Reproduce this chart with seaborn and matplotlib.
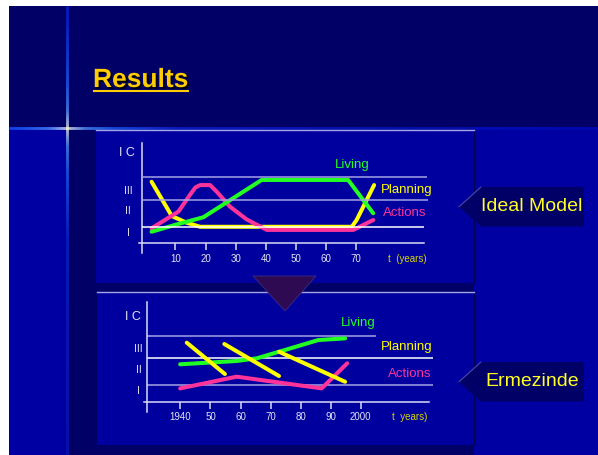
import numpy as np
import pandas as pd
import matplotlib
matplotlib.use("Agg")
import matplotlib.pyplot as plt
import matplotlib.patheffects as pe
from matplotlib.patches import Rectangle, Polygon
from matplotlib.collections import LineCollection
import seaborn as sns

# ---------------------------------------------------------------- data
# Ideal model: IC level against age (years)
ideal_living_t = [2.1, 10.0, 19.3, 38.6, 67.3, 75.6]
ideal_living_ic = [0.70, 1.12, 1.58, 3.84, 3.84, 1.82]
ideal_planning_t = [2.1, 8.8, 13.7, 18.2, 68.5, 70.1, 75.9]
ideal_planning_ic = [3.73, 1.65, 1.25, 1.00, 1.00, 1.41, 3.53]
ideal_actions_t = [2.1, 11.0, 14.8, 16.6, 18.2, 21.5, 23.7, 28.1, 33.6, 40.3, 69.0, 75.6]
ideal_actions_ic = [0.91, 1.92, 2.93, 3.38, 3.53, 3.53, 3.13, 2.22, 1.45, 0.81, 0.81, 1.41]
ideal_ticks = [10, 20, 30, 40, 50, 60, 70]
ideal_tick_labels = ["10", "20", "30", "40", "50", "60", "70"]

# Ermezinde: IC level against calendar year
erm_living_year = [1939.9, 1958.7, 1965.4, 1975.4, 1985.9, 1994.8]
erm_living_ic = [2.27, 2.47, 2.63, 3.17, 3.74, 3.84]
erm_actions_year = [1939.9, 1958.7, 1987.0, 1995.5]
erm_actions_ic = [0.81, 1.52, 0.81, 2.33]
erm_planning_year = [1942.1, 1954.8, 1954.6, 1972.8, 1972.8, 1994.8]
erm_planning_ic = [3.58, 1.68, 3.50, 1.56, 3.03, 1.21]
erm_planning_seg = [1, 1, 2, 2, 3, 3]
erm_ticks = [1940, 1950, 1960, 1970, 1980, 1990, 2000]
erm_tick_labels = ["1940", "50", "60", "70", "80", "90", "2000"]

# IC band boundaries and band names
band_levels = [1.0, 2.63, 4.0]
band_names = ["I", "II", "III"]

# ---------------------------------------------------------------- style
sns.set_theme(style="white")
plt.rcParams["font.family"] = ["Liberation Sans", "DejaVu Sans"]

NAVY = "#000066"
BLUE = "#0000A2"
PANEL = "#00009E"
LAVENDER = "#A4A4E6"
AXIS = "#DCDCF6"
TEXT = "#E4E4F2"
GREEN = "#22FF22"
YELLOW = "#FFFF00"
PINK = "#FF3399"
LW = 2.9

W, H = 598, 455
fig = plt.figure(figsize=(W / 100, H / 100), dpi=100)
fig.patch.set_facecolor("white")

# background layer in pixel units
bg = fig.add_axes([0, 0, 1, 1])
bg.set_xlim(0, W)
bg.set_ylim(H, 0)
bg.axis("off")
bg.add_patch(Rectangle((9, 6), W - 9, H - 6, facecolor=BLUE, edgecolor="none"))
bg.add_patch(Rectangle((9, 6), W - 9, 121, facecolor=NAVY, edgecolor="none"))
bg.add_patch(Rectangle((66, 127), 408, H - 127, facecolor=NAVY, edgecolor="none"))


def glow_colors(d):
    stops = [0, 5, 18, 45, 110, 600]
    r = np.interp(d, stops, [1.0, 0.80, 0.30, 0.12, 0.04, 0.00])
    g = np.interp(d, stops, [1.0, 0.88, 0.58, 0.38, 0.14, 0.02])
    b = np.interp(d, stops, [0.82, 1.0, 1.0, 1.0, 0.85, 0.66])
    return np.column_stack([r, g, b])


cx, cy = 67, 127.5
hx = np.linspace(9, W, 700)
hseg = np.stack([np.column_stack([hx[:-1], np.full(hx.size - 1, cy)]),
                 np.column_stack([hx[1:], np.full(hx.size - 1, cy)])], axis=1)
bg.add_collection(LineCollection(hseg, colors=glow_colors(np.abs(hx[:-1] - cx)),
                                 linewidths=2.0, capstyle="butt"))
vy = np.linspace(6, H, 600)
vseg = np.stack([np.column_stack([np.full(vy.size - 1, cx), vy[:-1]]),
                 np.column_stack([np.full(vy.size - 1, cx), vy[1:]])], axis=1)
bg.add_collection(LineCollection(vseg, colors=glow_colors(np.abs(vy[:-1] - cy)),
                                 linewidths=2.0, capstyle="butt"))

# title
shadow = [pe.withSimplePatchShadow(offset=(1.3, -1.3), shadow_rgbFace="black", alpha=0.9)]
bg.text(93, 87, "Results", fontsize=19, fontweight="bold", color="#FFCC00",
        ha="left", va="baseline", path_effects=shadow)
bg.hlines(91, 93, 189, colors="#FFCC00", linewidth=1.5, path_effects=shadow)


def panel_axes(x0, y0, x1, y1):
    return fig.add_axes([x0 / W, 1 - y1 / H, (x1 - x0) / W, (y1 - y0) / H])


def style_chart(ax, xlim, ylim, yaxis_x, xspan, ticks, tick_labels):
    ax.set_facecolor(PANEL)
    ax.set_xlim(*xlim)
    ax.set_ylim(*ylim)
    ax.spines["left"].set_position(("data", yaxis_x))
    ax.spines["left"].set_bounds(-0.6, 6.07)
    ax.spines["bottom"].set_position(("data", 0))
    ax.spines["bottom"].set_bounds(*xspan)
    for s in ("left", "bottom"):
        ax.spines[s].set_color(AXIS)
        ax.spines[s].set_linewidth(1.1)
    ax.spines["top"].set_color(LAVENDER)
    ax.spines["top"].set_linewidth(1.0)
    ax.spines["right"].set_color("#000050")
    ax.spines["right"].set_linewidth(1.0)
    ax.set_xticks(ticks, tick_labels)
    ax.set_yticks([])
    ax.tick_params(axis="x", direction="out", length=4.7, width=1.1, color=AXIS,
                   labelsize=7, labelcolor=TEXT, pad=3, bottom=True)
    ax.set_xlabel("")
    ax.set_ylabel("")
    ax.grid(False)


# ---------------------------------------------------------------- ideal model
ax1 = panel_axes(96, 130, 474, 283)
ideal_planning = pd.DataFrame({"t": ideal_planning_t, "ic": ideal_planning_ic})
ideal_actions = pd.DataFrame({"t": ideal_actions_t, "ic": ideal_actions_ic})
ideal_living = pd.DataFrame({"t": ideal_living_t, "ic": ideal_living_ic})
sns.lineplot(data=ideal_planning, x="t", y="ic", ax=ax1, color=YELLOW, lw=LW,
             sort=False, estimator=None, legend=False, zorder=3)
sns.lineplot(data=ideal_actions, x="t", y="ic", ax=ax1, color=PINK, lw=LW,
             sort=False, estimator=None, legend=False, zorder=3)
sns.lineplot(data=ideal_living, x="t", y="ic", ax=ax1, color=GREEN, lw=LW,
             sort=False, estimator=None, legend=False, zorder=3)
ax1.hlines(band_levels[2], -1.0, 93.5, colors=LAVENDER, lw=1.1, zorder=4)
ax1.hlines(band_levels[1], -1.0, 93.8, colors=LAVENDER, lw=1.1, zorder=4)
ax1.hlines(band_levels[0], -1.0, 92.5, colors="white", lw=1.1, zorder=4)
style_chart(ax1, (-16.34, 109.03), (-2.41, 6.87), -1.0, (-2.1, 92.5),
            ideal_ticks, ideal_tick_labels)
for yv, name in zip([0.64, 1.96, 3.17], band_names):
    ax1.text(-5.7, yv, name, fontsize=7.5, color=TEXT, ha="center", va="center")
ax1.text(-6.1, 5.49, "I C", fontsize=9, color=TEXT, ha="center", va="center")
ax1.text(68.5, 4.75, "Living", fontsize=9.5, color=GREEN, ha="center", va="center")
ax1.text(78.2, 3.23, "Planning", fontsize=9.5, color=YELLOW, ha="left", va="center")
ax1.text(78.9, 1.84, "Actions", fontsize=9.5, color=PINK, ha="left", va="center")
ax1.text(80.4, -0.97, "t  (years)", fontsize=7, color="#D6D600", ha="left", va="center")

# ---------------------------------------------------------------- Ermezinde
ax2 = panel_axes(97, 292, 474, 445)
erm_planning = pd.DataFrame({"year": erm_planning_year, "ic": erm_planning_ic,
                             "seg": erm_planning_seg})
erm_actions = pd.DataFrame({"year": erm_actions_year, "ic": erm_actions_ic})
erm_living = pd.DataFrame({"year": erm_living_year, "ic": erm_living_ic})
ax2.hlines(band_levels[2], 1929.0, 2005.1, colors=LAVENDER, lw=1.1, zorder=2)
ax2.hlines(band_levels[1], 1929.0, 2023.9, colors="white", lw=1.1, zorder=2)
ax2.hlines(band_levels[0], 1929.0, 2023.9, colors=LAVENDER, lw=1.1, zorder=2)
sns.lineplot(data=erm_living, x="year", y="ic", ax=ax2, color=GREEN, lw=LW,
             sort=False, estimator=None, legend=False, zorder=3)
sns.lineplot(data=erm_actions, x="year", y="ic", ax=ax2, color=PINK, lw=LW,
             sort=False, estimator=None, legend=False, zorder=3)
sns.lineplot(data=erm_planning, x="year", y="ic", units="seg", ax=ax2, color=YELLOW,
             lw=LW, sort=False, estimator=None, legend=False, zorder=3)
style_chart(ax2, (1912.23, 2037.69), (-2.62, 6.65), 1929.0, (1928.0, 2022.8),
            erm_ticks, erm_tick_labels)
for yv, name in zip([0.65, 1.92, 3.19], band_names):
    ax2.text(1926.0, yv, name, fontsize=7.5, color=TEXT, ha="center", va="center")
ax2.text(1924.1, 5.15, "I C", fontsize=9, color=TEXT, ha="center", va="center")
ax2.text(1993.3, 4.79, "Living", fontsize=9.5, color=GREEN, ha="left", va="center")
ax2.text(2006.7, 3.33, "Planning", fontsize=9.5, color=YELLOW, ha="left", va="center")
ax2.text(2009.0, 1.66, "Actions", fontsize=9.5, color=PINK, ha="left", va="center")
ax2.text(2010.3, -0.91, "t  years)", fontsize=7, color="#D6D600", ha="left", va="center")

# ---------------------------------------------------------------- overlay
ov = fig.add_axes([0, 0, 1, 1])
ov.set_xlim(0, W)
ov.set_ylim(H, 0)
ov.axis("off")
ov.patch.set_alpha(0)
ov.add_patch(Polygon([(253, 276), (316, 276), (285, 311)], closed=True,
                     facecolor="#2E0A52", edgecolor="#3C2C86", lw=0.6))


def tag(y_top, y_bot, text):
    ymid = (y_top + y_bot) / 2
    ov.add_patch(Polygon([(459, ymid), (481, y_top), (584, y_top), (584, y_bot), (481, y_bot)],
                         closed=True, facecolor=NAVY, edgecolor="none"))
    ov.plot([459, 481], [ymid, y_top], color="#4A4AA8", lw=0.8)
    ov.text(532, ymid - 0.5, text, fontsize=14, color="#FFFF22", ha="center", va="center")


tag(187, 226.5, "Ideal Model")
tag(362, 401.5, "Ermezinde")

fig.savefig("out.png", dpi=100, facecolor=fig.get_facecolor())
